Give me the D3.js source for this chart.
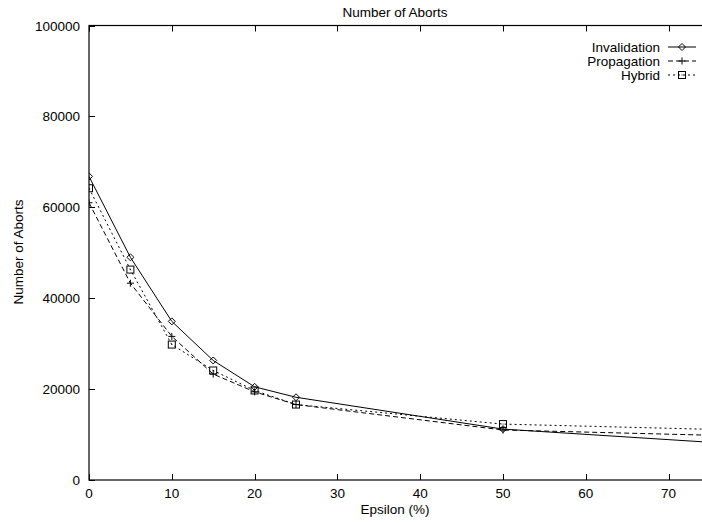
<!DOCTYPE html>
<html>
<head>
<meta charset="utf-8">
<script src="https://cdn.jsdelivr.net/npm/d3@7"></script>
<style>
  body { margin: 0; background: #fff; }
  svg text { font-family: "Liberation Sans", Arial, sans-serif; fill: #000; }
</style>
</head>
<body>
<div id="chart"></div>
<script>
// data
const epsilon = [0, 5, 10, 15, 20, 25, 50, 75];
const invalidation = [66800, 49000, 34900, 26300, 20500, 18200, 11200, 8300];
const propagation  = [61000, 43300, 31600, 23300, 19400, 16600, 11000, 9850];
const hybrid       = [64200, 46300, 29800, 24100, 19700, 16600, 12300, 11150];
const xTicks = [0, 10, 20, 30, 40, 50, 60, 70];
const yTicks = [0, 20000, 40000, 60000, 80000, 100000];

const series = [
  { name: "Invalidation", values: invalidation, dash: null,  marker: "diamond" },
  { name: "Propagation",  values: propagation,  dash: "5,3", marker: "plus" },
  { name: "Hybrid",       values: hybrid,       dash: "2,3", marker: "square" }
];

const width = 702, height = 523;
const pLeft = 89, pRight = 710, pTop = 25.5, pBottom = 480;
const fs = 13.5;

const svg = d3.select("#chart").append("svg")
  .attr("width", width).attr("height", height);

const x = d3.scaleLinear().domain([0, 75]).range([pLeft, pRight]);
const y = d3.scaleLinear().domain([0, 100000]).range([pBottom, pTop]);

svg.append("defs").append("clipPath").attr("id", "clip")
  .append("rect").attr("x", pLeft).attr("y", pTop)
  .attr("width", pRight - pLeft).attr("height", pBottom - pTop);

// border
svg.append("rect")
  .attr("x", pLeft).attr("y", pTop)
  .attr("width", pRight - pLeft).attr("height", pBottom - pTop)
  .attr("fill", "none").attr("stroke", "#000").attr("stroke-width", 1.2);

// ticks (inward, mirrored)
const tl = 6;
xTicks.forEach(t => {
  const px = Math.round(x(t)) + 0.5;
  svg.append("line").attr("x1", px).attr("x2", px).attr("y1", pBottom).attr("y2", pBottom - tl)
    .attr("stroke", "#000");
  svg.append("line").attr("x1", px).attr("x2", px).attr("y1", pTop).attr("y2", pTop + tl)
    .attr("stroke", "#000");
  svg.append("text").attr("x", x(t)).attr("y", pBottom + 18)
    .attr("text-anchor", "middle").attr("font-size", fs).text(t);
});
yTicks.forEach(t => {
  const py = Math.round(y(t)) + 0.5;
  svg.append("line").attr("x1", pLeft).attr("x2", pLeft + tl).attr("y1", py).attr("y2", py)
    .attr("stroke", "#000");
  svg.append("text").attr("x", pLeft - 9).attr("y", y(t) + 5)
    .attr("text-anchor", "end").attr("font-size", fs).text(t);
});

// titles
svg.append("text").attr("x", 395).attr("y", 17).attr("text-anchor", "middle")
  .attr("font-size", fs).text("Number of Aborts");
svg.append("text").attr("x", 395).attr("y", 514).attr("text-anchor", "middle")
  .attr("font-size", fs).text("Epsilon (%)");
svg.append("text").attr("transform", "translate(23,252) rotate(-90)")
  .attr("text-anchor", "middle").attr("font-size", fs).text("Number of Aborts");

const line = d3.line().x((d, i) => x(epsilon[i])).y(d => y(d));

function marker(g, type, cx, cy) {
  const s = 3.5;
  if (type === "diamond") {
    g.append("path").attr("d", `M${cx},${cy - s}L${cx + s},${cy}L${cx},${cy + s}L${cx - s},${cy}Z`)
      .attr("fill", "none").attr("stroke", "#000");
  } else if (type === "plus") {
    g.append("path").attr("d", `M${cx - s},${cy}H${cx + s}M${cx},${cy - s}V${cy + s}`)
      .attr("fill", "none").attr("stroke", "#000");
  } else {
    g.append("rect").attr("x", cx - s).attr("y", cy - s).attr("width", 2 * s).attr("height", 2 * s)
      .attr("fill", "none").attr("stroke", "#000");
    g.append("rect").attr("x", cx - 0.5).attr("y", cy - 0.5).attr("width", 1).attr("height", 1)
      .attr("fill", "#000");
  }
}

const plot = svg.append("g").attr("clip-path", "url(#clip)");

series.forEach(s => {
  plot.append("path").datum(s.values)
    .attr("d", line)
    .attr("fill", "none").attr("stroke", "#000").attr("stroke-width", 1)
    .attr("stroke-dasharray", s.dash);
  s.values.forEach((v, i) => marker(plot, s.marker, x(epsilon[i]), y(v)));
});

// legend
const legY = [47, 61, 75];
series.forEach((s, i) => {
  svg.append("text").attr("x", 660).attr("y", legY[i] + 5)
    .attr("text-anchor", "end").attr("font-size", fs).text(s.name);
  svg.append("line").attr("x1", 668).attr("x2", 696).attr("y1", legY[i]).attr("y2", legY[i])
    .attr("stroke", "#000").attr("stroke-dasharray", s.dash);
  marker(svg, s.marker, 682, legY[i]);
});
</script>
</body>
</html>
